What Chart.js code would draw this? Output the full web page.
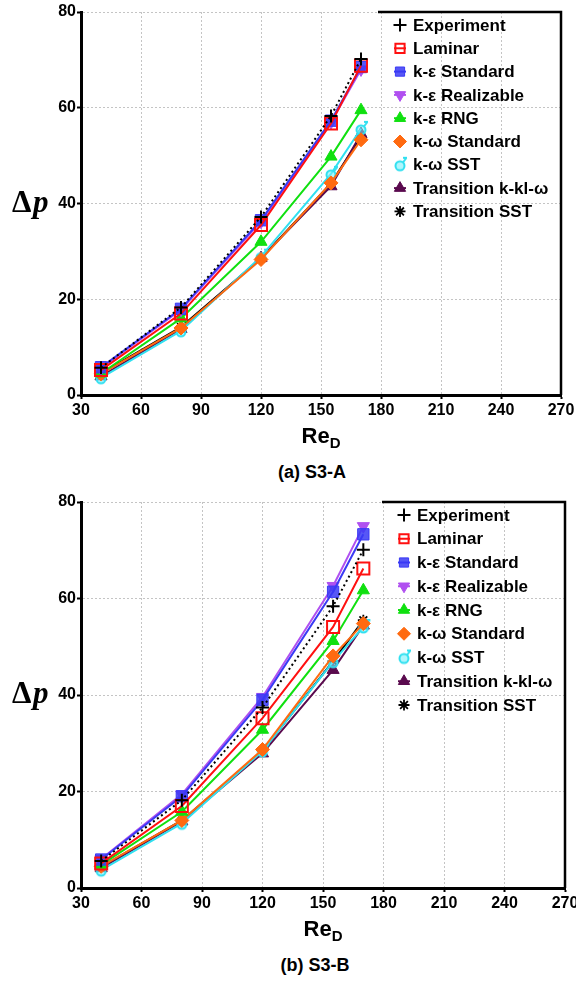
<!DOCTYPE html>
<html>
<head>
<meta charset="utf-8">
<script src="https://cdn.jsdelivr.net/npm/chart.js@4/dist/chart.umd.min.js"></script>
<style>
  body { margin: 0; background: #fff; width: 576px; height: 985px; position: relative; overflow: hidden; }
  canvas { position: absolute; left: 0; }
  .cap { position: absolute; font: bold 18px "Liberation Sans", Arial, sans-serif; color: #000; transform: translateX(-50%); white-space: nowrap; }
</style>
</head>
<body>
<canvas id="chartA" width="576" height="460" style="top:0"></canvas>
<canvas id="chartB" width="576" height="460" style="top:490px"></canvas>
<div class="cap" style="left:312px; top:462px">(a) S3-A</div>
<div class="cap" style="left:315px; top:955px">(b) S3-B</div>
<script>
// Reynolds numbers of the measured points
var reD = [40, 80, 120, 155, 170];
var xTicks = [30, 60, 90, 120, 150, 180, 210, 240, 270];
var yTicks = [0, 20, 40, 60, 80];

var names = ["Experiment", "Laminar", "k-\u03b5 Standard", "k-\u03b5 Realizable", "k-\u03b5 RNG",
             "k-\u03c9 Standard", "k-\u03c9 SST", "Transition k-kl-\u03c9", "Transition SST"];

// (a) S3-A
var expA      = [5.7, 18.3, 37.2, 58.3, 70.2];
var lamA      = [5.2, 17.0, 35.5, 56.7, 68.8];
var keStdA    = [5.8, 18.0, 36.5, 57.3, 68.5];
var keRealA   = [5.6, 17.8, 36.2, 57.0, 68.0];
var keRngA    = [4.5, 16.0, 32.0, 49.8, 59.5];
var kwStdA    = [4.4, 14.0, 28.3, 44.3, 53.3];
var kwSstA    = [3.6, 13.4, 28.9, 46.2, 55.6];
var transKklA = [3.9, 13.8, 28.6, 43.6, 54.5];
var transSstA = [4.5, 14.2, 28.5, 44.2, 54.0];

// (b) S3-B
var expB      = [5.6, 18.2, 37.4, 58.4, 70.1];
var lamB      = [5.1, 17.0, 35.2, 54.1, 66.2];
var keStdB    = [5.9, 19.0, 39.0, 61.4, 73.3];
var keRealB   = [6.0, 19.4, 39.6, 62.6, 75.0];
var keRngB    = [4.8, 15.8, 32.8, 51.2, 61.7];
var kwStdB    = [4.5, 14.0, 28.7, 48.1, 54.8];
var kwSstB    = [3.7, 13.4, 28.4, 46.9, 54.1];
var transKklB = [4.1, 13.8, 27.9, 45.2, 54.4];
var transSstB = [4.4, 14.0, 28.4, 47.0, 55.5];

var FONT = '"Liberation Sans", Arial, sans-serif';

// small "circle with tail" marker used for k-w SST
function sstMarker() {
    var c = document.createElement("canvas");
    c.width = 18; c.height = 18;
    var g = c.getContext("2d");
    g.strokeStyle = "#30e0f0";
    g.fillStyle = "rgba(120,240,250,0.6)";
    g.lineWidth = 2;
    g.beginPath(); g.arc(9, 10, 4.5, 0, Math.PI * 2); g.fill(); g.stroke();
    g.beginPath(); g.moveTo(12, 6.5); g.lineTo(15.5, 2); g.moveTo(12, 2); g.lineTo(16, 2); g.stroke();
    return c;
}
var sstImg = sstMarker();

var styles = [
    { color: "#000000", point: "cross", radius: 6.5, fill: "#000", dash: [2, 3], bw: 2 },
    { color: "#ff1010", point: "rect", radius: 8.5, fill: "rgba(255,255,255,0)", bw: 2 },
    { color: "#3a3af5", point: "rect", radius: 8, fill: "rgba(58,58,245,0.85)", bw: 1 },
    { color: "#b050f0", point: "triangle", rotation: 180, radius: 7, fill: "#b050f0", bw: 1 },
    { color: "#10e010", point: "triangle", radius: 7, fill: "#10e010", bw: 1 },
    { color: "#ff6a10", point: "rectRot", radius: 7, fill: "#ff6a10", bw: 1 },
    { color: "#30e0f0", point: sstImg, radius: 6, fill: "#30e0f0", bw: 1 },
    { color: "#5a0a4e", point: "triangle", radius: 7, fill: "#5a0a4e", bw: 1 },
    { color: "#000000", point: "star", radius: 5.5, fill: "#000", bw: 1.8 }
];

function buildDatasets(series) {
    return series.map(function (vals, i) {
        var s = styles[i];
        return {
            label: names[i],
            data: vals.map(function (v, j) { return { x: reD[j], y: v }; }),
            borderColor: s.color,
            borderWidth: 2,
            borderDash: s.dash || [],
            pointStyle: s.point,
            pointRotation: s.rotation || 0,
            pointRadius: s.radius,
            pointBorderWidth: s.bw,
            pointBorderColor: s.color,
            pointBackgroundColor: s.fill,
            tension: 0,
            fill: false
        };
    });
}

var decorPlugin = {
    id: "decor",
    afterDraw: function (chart) {
        var ctx = chart.ctx, a = chart.chartArea;
        ctx.save();
        // right frame and legend top edge
        ctx.strokeStyle = "#000";
        ctx.lineWidth = 2.5;
        ctx.beginPath();
        ctx.moveTo(a.right, a.bottom);
        ctx.lineTo(a.right, a.top);
        ctx.lineTo(a.right - 183, a.top);
        ctx.stroke();

        // legend entries
        var step = chart.options.plugins.decor.step;
        var mx = a.right - 161, tx = a.right - 148;
        chart.data.datasets.forEach(function (ds, i) {
            var y = a.top + 13 + i * step;
            var s = styles[i];
            if (i > 0 && i !== 6 && i !== 8) {
                ctx.strokeStyle = s.color; ctx.lineWidth = 2; ctx.setLineDash([]);
                ctx.beginPath(); ctx.moveTo(mx - 6, y); ctx.lineTo(mx + 6, y); ctx.stroke();
            }
            ctx.strokeStyle = s.color;
            ctx.fillStyle = s.fill;
            ctx.lineWidth = s.bw;
            Chart.helpers.drawPoint(ctx, { pointStyle: s.point, rotation: s.rotation || 0, radius: Math.min(s.radius, 6.5), borderWidth: s.bw }, mx, y);
            ctx.fillStyle = "#000";
            ctx.font = "bold 17px " + FONT;
            ctx.textBaseline = "middle";
            ctx.textAlign = "left";
            ctx.fillText(ds.label, tx, y + 1);
        });

        // y-axis title (horizontal)
        var yMid = chart.scales.y.getPixelForValue(40);
        ctx.fillStyle = "#000";
        ctx.textBaseline = "alphabetic";
        ctx.textAlign = "left";
        ctx.font = 'bold 31px "Liberation Serif", "DejaVu Serif", serif';
        ctx.fillText("\u0394", 12, yMid + 8);
        ctx.font = 'bold italic 31px "Liberation Serif", "DejaVu Serif", serif';
        ctx.fillText("p", 33, yMid + 8);

        // x-axis title Re_D
        var cx = (a.left + a.right) / 2;
        ctx.font = "bold 22px " + FONT;
        var w1 = ctx.measureText("Re").width;
        ctx.font = "bold 15px " + FONT;
        var w2 = ctx.measureText("D").width;
        var x0 = cx - (w1 + w2) / 2;
        ctx.font = "bold 22px " + FONT;
        ctx.fillText("Re", x0, a.bottom + 48);
        ctx.font = "bold 15px " + FONT;
        ctx.fillText("D", x0 + w1, a.bottom + 53);
        ctx.restore();
    }
};

function makeChart(id, series, opts) {
    var ctx = document.getElementById(id).getContext("2d");
    return new Chart(ctx, {
        type: "line",
        data: { datasets: buildDatasets(series) },
        options: {
            responsive: false,
            animation: false,
            layout: { padding: { top: 12, right: opts.right, left: 0, bottom: 0 } },
            plugins: {
                legend: { display: false },
                tooltip: { enabled: false },
                decor: { step: opts.step }
            },
            scales: {
                x: {
                    type: "linear",
                    min: 30,
                    max: 270,
                    afterBuildTicks: function (s) { s.ticks = xTicks.map(function (v) { return { value: v }; }); },
                    afterFit: function (s) { s.height = opts.xh; s.paddingLeft = 0; s.paddingRight = 0; },
                    grid: { color: "#c4c4c4", lineWidth: 1, tickLength: 4, tickColor: "#000", tickWidth: 2, tickBorderDash: [] },
                    border: { color: "#000", width: 3, dash: [2, 2] },
                    ticks: { color: "#000", font: { family: FONT, size: 16, weight: "bold" }, padding: 2, maxRotation: 0 }
                },
                y: {
                    type: "linear",
                    min: 0,
                    max: 80,
                    afterBuildTicks: function (s) { s.ticks = yTicks.map(function (v) { return { value: v }; }); },
                    afterFit: function (s) { s.width = 81; s.paddingTop = 0; s.paddingBottom = 0; },
                    grid: { color: "#c4c4c4", lineWidth: 1, tickLength: 4, tickColor: "#000", tickWidth: 2, tickBorderDash: [] },
                    border: { color: "#000", width: 3, dash: [2, 2] },
                    ticks: { color: "#000", font: { family: FONT, size: 16, weight: "bold" }, padding: 1 }
                }
            }
        },
        plugins: [decorPlugin]
    });
}

makeChart("chartA", [expA, lamA, keStdA, keRealA, keRngA, kwStdA, kwSstA, transKklA, transSstA],
          { right: 15, xh: 65, step: 23.3 });
makeChart("chartB", [expB, lamB, keStdB, keRealB, keRngB, kwStdB, kwSstB, transKklB, transSstB],
          { right: 11, xh: 62, step: 23.75 });
</script>
</body>
</html>
